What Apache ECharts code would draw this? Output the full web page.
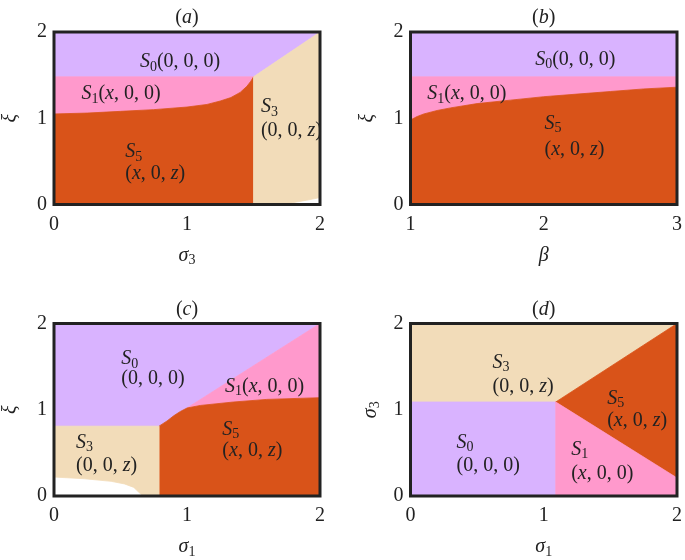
<!DOCTYPE html>
<html><head><meta charset="utf-8">
<script src="https://cdn.jsdelivr.net/npm/echarts/dist/echarts.min.js"></script>
<style>html,body{margin:0;padding:0;background:#fff}#c{width:685px;height:560px}</style>
</head><body><div id="c"></div>
<script>
// ---------- data ----------
const panelTitles = ['a', 'b', 'c', 'd'];
const xNames = ['σ3', 'β', 'σ1', 'σ1'];
const yNames = ['ξ', 'ξ', 'ξ', 'σ3'];
const xRanges = [[0, 2], [1, 3], [0, 2], [0, 2]];
const yRanges = [[0, 2], [0, 2], [0, 2], [0, 2]];

// panel (a): ξ vs σ3
const aLevel = 1.48;          // S0 / S1 boundary
const aSplit = 1.5;           // S5 / S3 boundary
const aCurve = [[0, 1.05], [0.25, 1.06], [0.5, 1.08], [0.75, 1.10], [1.0, 1.13], [1.15, 1.16], [1.25, 1.2], [1.33, 1.24], [1.4, 1.30], [1.45, 1.37], [1.48, 1.43], [1.5, 1.48]];
const aWhite = [[1.72, 0], [1.9, 0.05], [2, 0.08]];

// panel (b): ξ vs β
const bLevel = 1.48;
const bCurve = [[1, 0.98], [1.05, 1.02], [1.1, 1.05], [1.2, 1.09], [1.3, 1.12], [1.5, 1.17], [1.75, 1.21], [2, 1.25], [2.25, 1.28], [2.5, 1.31], [2.75, 1.34], [3, 1.36]];

// panel (c): ξ vs σ1
const cLevel = 0.81;
const cSplit = 0.79;
const cKink = [[0.79, 0.81], [0.85, 0.87], [0.9, 0.93], [0.95, 0.98], [1.0, 1.02]];
const cCurve = [[1.0, 1.02], [1.1, 1.05], [1.35, 1.09], [1.6, 1.12], [2, 1.14]];
const cWhite = [[0, 0.22], [0.23, 0.2], [0.43, 0.17], [0.53, 0.14], [0.6, 0.1], [0.64, 0.04], [0.67, 0]];

// panel (d): σ3 vs σ1
const dPoint = [1.09, 1.09];
const dLowEnd = [2, 0.21];

// labels: [x, y, text]
const labelsA = [[0.64, 1.65, 'S0(0, 0, 0)'], [0.2, 1.28, 'S1(x, 0, 0)'], [1.55, 1.13, 'S3'], [1.55, 0.86, '(0, 0, z)'], [0.53, 0.61, 'S5'], [0.53, 0.36, '(x, 0, z)']];
const labelsB = [[1.93, 1.68, 'S0(0, 0, 0)'], [1.12, 1.28, 'S1(x, 0, 0)'], [2.0, 0.94, 'S5'], [2.0, 0.63, '(x, 0, z)']];
const labelsC = [[0.5, 1.59, 'S0'], [0.5, 1.36, '(0, 0, 0)'], [1.28, 1.27, 'S1(x, 0, 0)'], [1.26, 0.77, 'S5'], [1.26, 0.52, '(x, 0, z)'], [0.16, 0.62, 'S3'], [0.16, 0.35, '(0, 0, z)']];
const labelsD = [[0.61, 1.55, 'S3'], [0.61, 1.27, '(0, 0, z)'], [1.47, 1.13, 'S5'], [1.47, 0.87, '(x, 0, z)'], [0.34, 0.62, 'S0'], [0.34, 0.35, '(0, 0, 0)'], [1.2, 0.54, 'S1'], [1.2, 0.26, '(x, 0, 0)']];

// ---------- build ----------
const C = {S0: '#d9b3ff', S1: '#ff99cc', S3: '#f2dcb9', S5: '#d95319'};
const rev = a => a.slice().reverse();

const regions = [
  [ // a
    ['S0', [[0, aLevel], [aSplit, aLevel], [2, 2], [0, 2]]],
    ['S1', [[0, aLevel], [aSplit, aLevel]].concat(rev(aCurve))],
    ['S5', [[0, 0], [aSplit, 0]].concat(rev(aCurve))],
    ['S3', [[aSplit, 0]].concat(aWhite, [[2, 2], [aSplit, aLevel]])]
  ],
  [ // b
    ['S0', [[1, bLevel], [3, bLevel], [3, 2], [1, 2]]],
    ['S1', [[1, bLevel], [3, bLevel]].concat(rev(bCurve))],
    ['S5', [[1, 0], [3, 0]].concat(rev(bCurve))]
  ],
  [ // c
    ['S0', [[0, cLevel]].concat(cKink, [[2, 2], [0, 2]])],
    ['S1', [[1.0, 1.02], [2, 2]].concat(rev(cCurve))],
    ['S5', [[cSplit, 0], [2, 0]].concat(rev(cCurve), rev(cKink))],
    ['S3', [[0, cLevel], [cSplit, cLevel], [cSplit, 0]].concat(rev(cWhite))]
  ],
  [ // d
    ['S3', [[0, dPoint[1]], dPoint, [2, 2], [0, 2]]],
    ['S0', [[0, 0], [dPoint[0], 0], dPoint, [0, dPoint[1]]]],
    ['S5', [dPoint, [2, 2], dLowEnd]],
    ['S1', [[dPoint[0], 0], [2, 0], dLowEnd, dPoint]]
  ]
];
const labels = [labelsA, labelsB, labelsC, labelsD];

const F = "'Liberation Serif', 'DejaVu Serif', serif";
const TXT = '#222';
const rich = {
  strut: {fontSize: 1, lineHeight: 30},
  r: {fontFamily: F, fontSize: 20, lineHeight: 20, verticalAlign: 'top', color: TXT},
  it: {fontFamily: F, fontSize: 20, lineHeight: 20, verticalAlign: 'top', fontStyle: 'italic', color: TXT},
  sub: {fontFamily: F, fontSize: 14, lineHeight: 30, verticalAlign: 'middle', color: TXT}
};
function toRich(str, strut) {
  let out = strut ? '{strut| }' : '';
  for (let i = 0; i < str.length; i++) {
    const c = str[i];
    if ((c === 'S' || c === 'σ') && /\d/.test(str[i + 1] || '')) {
      out += '{it|' + c + '}{sub|' + str[i + 1] + '}'; i++;
    } else if ('xzξβ'.includes(c)) {
      out += '{it|' + c + '}';
    } else {
      out += '{r|' + c + '}';
    }
  }
  return out;
}

const grids = [
  {left: 50.5, top: 32, width: 269.5, height: 172.5},
  {left: 410.5, top: 32, width: 270.5, height: 172.5},
  {left: 50.5, top: 323.5, width: 269.5, height: 174},
  {left: 410.5, top: 323.5, width: 270.5, height: 174}
].map(g => Object.assign(g, {show: true, borderColor: '#222', borderWidth: 3, z: 10, backgroundColor: 'transparent', containLabel: false}));

const xAxes = [], yAxes = [], series = [];
for (let i = 0; i < 4; i++) {
  xAxes.push({
    type: 'value', gridIndex: i, min: xRanges[i][0], max: xRanges[i][1], interval: 1,
    axisLine: {show: false}, axisTick: {show: false}, splitLine: {show: false},
    axisLabel: {fontFamily: F, fontSize: 20, color: TXT, margin: 10},
    name: toRich(xNames[i], false), nameLocation: 'middle', nameGap: 41,
    nameTextStyle: {rich: rich}
  });
  xAxes.push({
    type: 'value', gridIndex: i, position: 'top', min: xRanges[i][0], max: xRanges[i][1],
    axisLine: {show: false}, axisTick: {show: false}, splitLine: {show: false}, axisLabel: {show: false},
    name: toRich('(' + panelTitles[i] + ')', false).replace('{r|' + panelTitles[i] + '}', '{it|' + panelTitles[i] + '}'),
    nameLocation: 'middle', nameGap: 4, nameTextStyle: {rich: rich}
  });
  yAxes.push({
    type: 'value', gridIndex: i, min: yRanges[i][0], max: yRanges[i][1], interval: 1,
    axisLine: {show: false}, axisTick: {show: false}, splitLine: {show: false},
    axisLabel: {fontFamily: F, fontSize: 20, color: TXT, margin: 7},
    name: toRich(yNames[i], false), nameLocation: 'middle', nameGap: i === 3 ? 20 : 33,
    nameTextStyle: {rich: rich}
  });
  regions[i].forEach(([key, poly]) => {
    series.push({
      type: 'custom', xAxisIndex: 2 * i, yAxisIndex: i, silent: true, z: 2,
      data: [0],
      renderItem: (params, api) => ({
        type: 'polygon',
        shape: {points: poly.map(p => api.coord(p))},
        style: {fill: C[key], stroke: C[key], lineWidth: 0.8}
      })
    });
  });
  series.push({
    type: 'scatter', xAxisIndex: 2 * i, yAxisIndex: i, silent: true, z: 5,
    symbolSize: 1, itemStyle: {color: 'rgba(0,0,0,0)'},
    data: labels[i].map(l => ({value: [l[0], l[1]], txt: l[2]})),
    label: {
      show: true, position: 'right', distance: 0, offset: [0, 5], opacity: 1,
      formatter: p => toRich(p.data.txt, true), rich: rich
    }
  });
}

const chart = echarts.init(document.getElementById('c'), null, {renderer: 'canvas'});
chart.setOption({animation: false, grid: grids, xAxis: xAxes, yAxis: yAxes, series: series});
</script></body></html>
